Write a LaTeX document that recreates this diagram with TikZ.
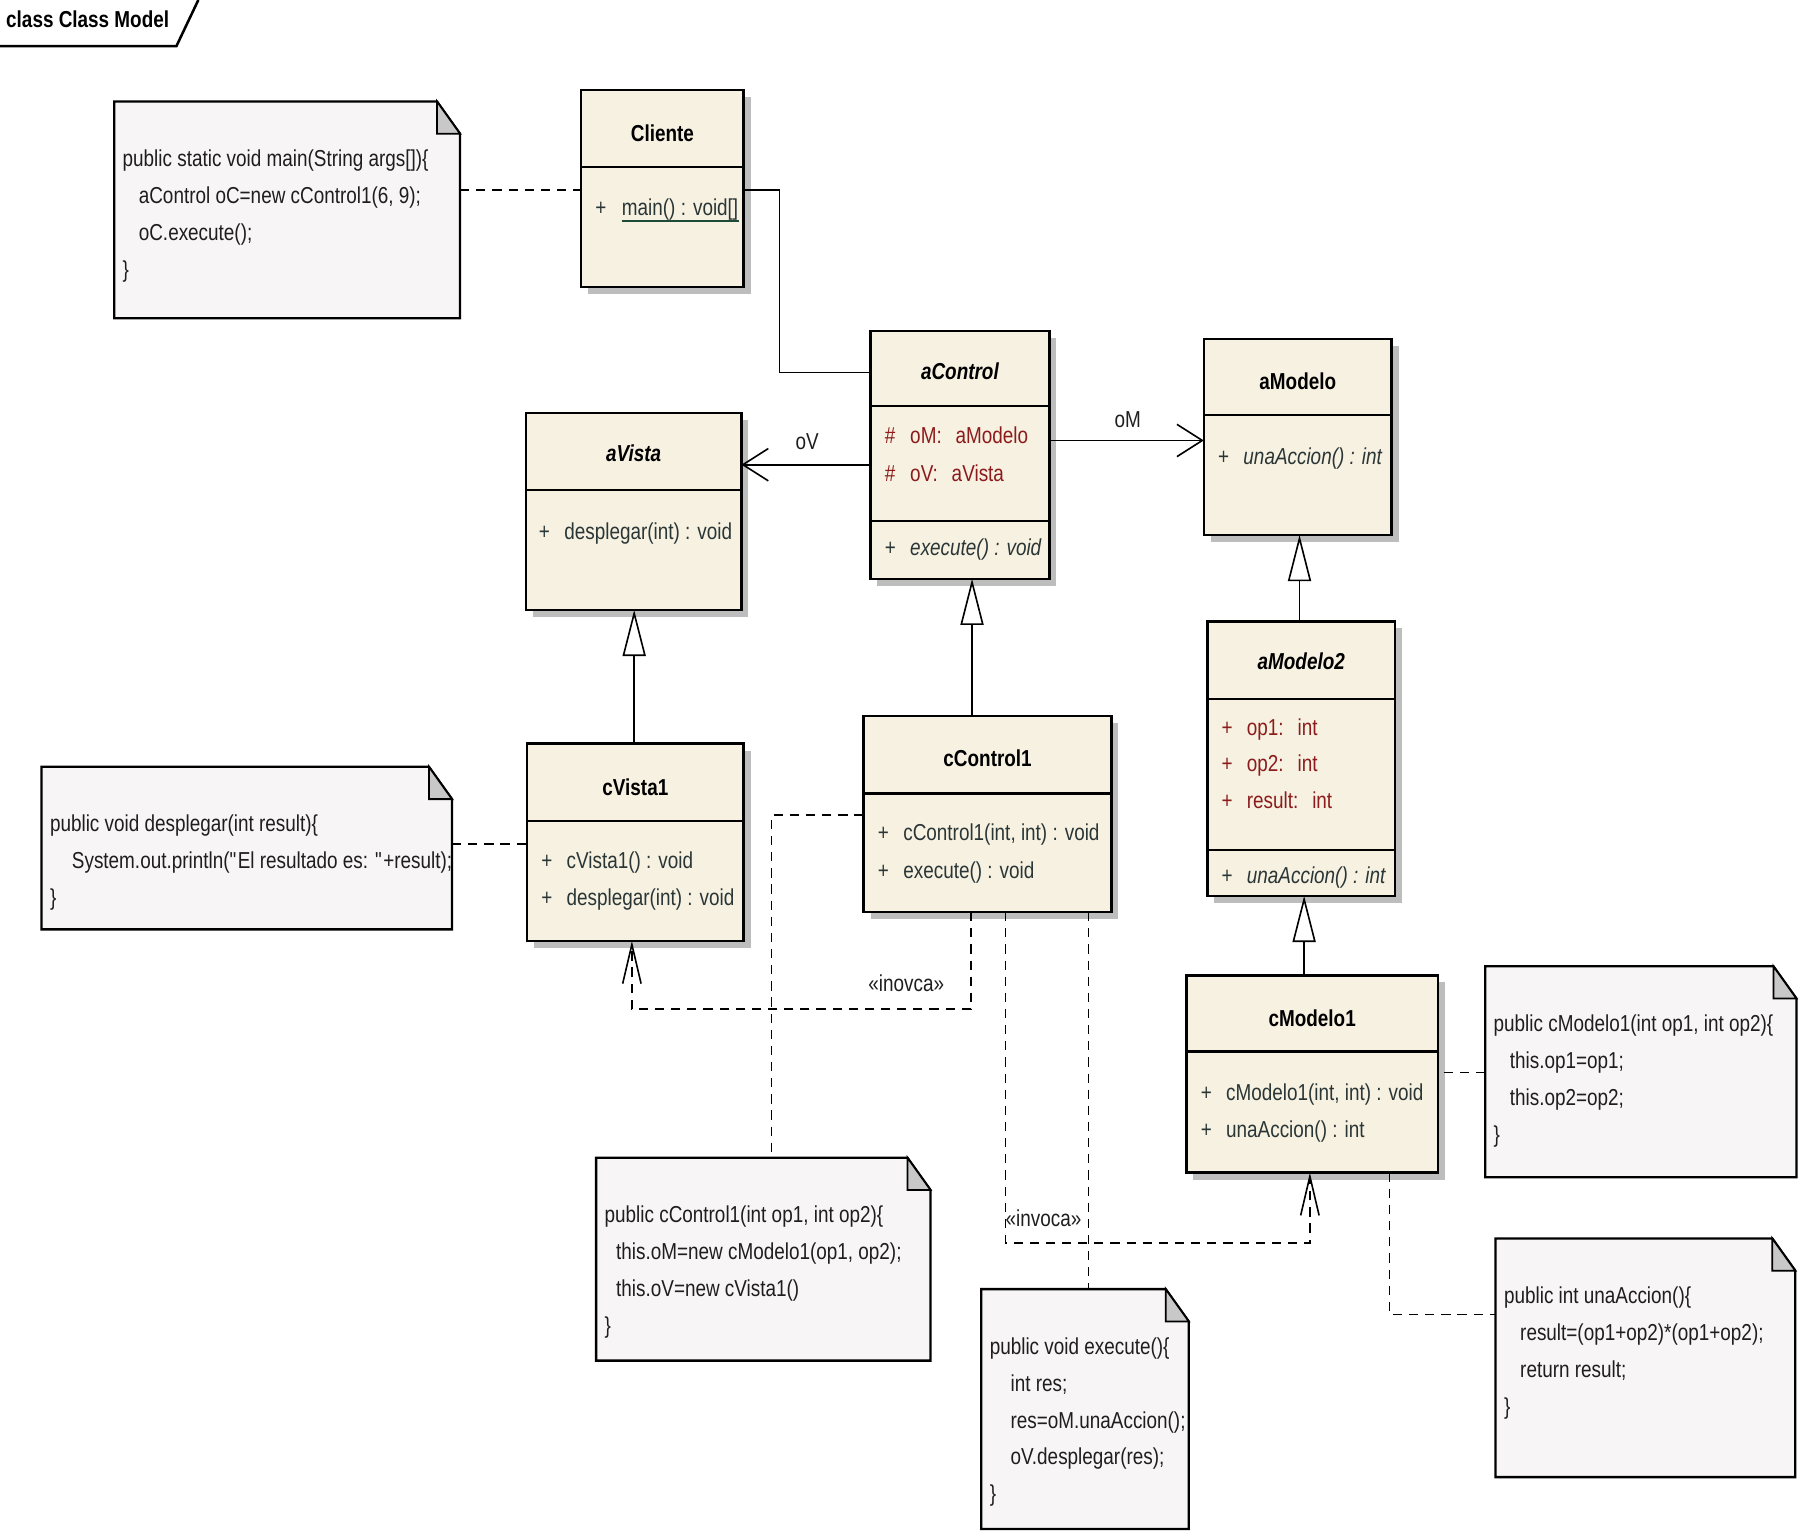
\documentclass[tikz,border=0pt]{standalone}
\usepackage{fontspec}
\setmainfont{Liberation Sans}[FakeStretch=0.82]
\usetikzlibrary{arrows.meta,fit}
\definecolor{classfill}{HTML}{F7F1E2}
\definecolor{notefill}{HTML}{F7F5F6}
\definecolor{shadowc}{HTML}{BDBDBD}
\definecolor{foldc}{HTML}{C8C8C8}
\definecolor{memc}{HTML}{2A3636}
\definecolor{attrc}{HTML}{8C1C1C}
\definecolor{notetext}{HTML}{1E1E1E}
\definecolor{ulc}{HTML}{1E4A38}
\newcounter{tn}
\newcommand\tx[4][]{\stepcounter{tn}\node[txt,#1] (tx\arabic{tn}) at (#2,#3+6.5) {#4};}
\newcommand\ttlx[4][]{\stepcounter{tn}\node[ttl,#1] (tx\arabic{tn}) at (#2,#3+7) {#4};}
\newcommand\umlclass[5]{\fill[shadowc] (#2+6,#3+6) rectangle (#4+6,#5+6);
  \node[classbox, fit={(#2,#3) (#4,#5)}] (#1) {};}
\newcommand\divl[2]{\draw[divline] (#1.west |- 0,#2) -- (#1.east |- 0,#2);}
\newcommand\umlnote[5]{\node[notebox, fit={(#2,#3) (#4,#5)}] (#1) {};
  \draw[noteline] (#1.north west) -- ([xshift=-10pt]#1.north east) -- ([yshift=-14pt]#1.north east) -- (#1.south east) -- (#1.south west) -- cycle;
  \filldraw[foldline] ([xshift=-10pt]#1.north east) -- ([xshift=-10pt,yshift=-14pt]#1.north east) -- ([yshift=-14pt]#1.north east) -- cycle;}
\begin{document}
\begin{tikzpicture}[x=0.5pt,y=-0.5pt,
  classbox/.style={draw=black, line width=1.1pt, fill=classfill, inner sep=0pt, outer sep=0pt},
  divline/.style={line width=1.1pt},
  notebox/.style={draw=none, inner sep=0pt, outer sep=0pt},
  noteline/.style={draw=black, line width=1pt, fill=notefill},
  foldline/.style={draw=black, line width=0.8pt, fill=foldc},
  txt/.style={inner sep=0pt, anchor=base west, font=\fontsize{10}{12}\selectfont, text=notetext},
  mem/.style={text=memc},
  memit/.style={text=memc, font=\fontsize{10}{12}\selectfont\itshape},
  attr/.style={text=attrc},
  ttl/.style={inner sep=0pt, anchor=base, font=\fontsize{10}{12}\selectfont\bfseries, text=black},
  ttlit/.style={font=\fontsize{10}{12}\selectfont\bfseries\itshape},
  lbl/.style={inner sep=0pt, anchor=base, font=\fontsize{10}{12}\selectfont, text=notetext},
  conn/.style={line width=0.7pt},
  dsh/.style={conn, dash pattern=on 4pt off 3pt},
  assoc/.style={conn, -{Straight Barb[length=11pt,width=14pt]}},
  gen/.style={conn, -{Triangle[length=20pt,width=10pt,fill=white]}},
  dep/.style={dsh, -{Straight Barb[length=17pt,width=8pt]}}
]
\useasboundingbox (0,0) rectangle (1568,1330);

% frame label
\node[inner sep=0pt, anchor=base west, font=\fontsize{10}{12}\selectfont\bfseries] (frametitle) at (5,24) {class Class Model};
\draw[line width=1.1pt] (0,40) -- (153,40) -- (172,0);

% notes
\umlnote{n1}{99}{88}{399}{276}
\tx{106}{138}{public static void main(String args[])\{}
\tx{120}{170}{aControl oC=new cControl1(6, 9);}
\tx{120}{202}{oC.execute();}
\tx{106}{234}{\}}

\umlnote{n2}{36}{665}{392}{806}
\tx{43}{715}{public void desplegar(int result)\{}
\tx{62}{747}{System.out.println(\textquotedbl El resultado es: \textquotedbl+result);}
\tx{43}{779}{\}}

\umlnote{n3}{517}{1004}{807}{1180}
\tx{524}{1054}{public cControl1(int op1, int op2)\{}
\tx{534}{1086}{this.oM=new cModelo1(op1, op2);}
\tx{534}{1118}{this.oV=new cVista1()}
\tx{524}{1150}{\}}

\umlnote{n4}{851}{1118}{1031}{1326}
\tx{858}{1168}{public void execute()\{}
\tx{876}{1200}{int res;}
\tx{876}{1232}{res=oM.unaAccion();}
\tx{876}{1264}{oV.desplegar(res);}
\tx{858}{1296}{\}}

\umlnote{n5}{1288}{838}{1558}{1021}
\tx{1295}{888}{public cModelo1(int op1, int op2)\{}
\tx{1309}{920}{this.op1=op1;}
\tx{1309}{952}{this.op2=op2;}
\tx{1295}{984}{\}}

\umlnote{n6}{1297}{1074}{1557}{1281}
\tx{1304}{1124}{public int unaAccion()\{}
\tx{1318}{1156}{result=(op1+op2)*(op1+op2);}
\tx{1318}{1188}{return result;}
\tx{1304}{1220}{\}}

% classes
\umlclass{cliente}{504}{78}{645}{249}
\divl{cliente}{145}
\ttlx{574.5}{116}{Cliente}
\tx[mem]{516}{180}{+}
\node[txt, mem] (mainop) at (539,186.5) {main() : void[]};
\draw[draw=ulc, line width=0.8pt] ([yshift=-2.5pt]mainop.base west) -- ([yshift=-2.5pt]mainop.base east);

\umlclass{acontrol}{755}{287}{910}{502}
\divl{acontrol}{352}
\divl{acontrol}{452}
\ttlx[ttlit]{832.5}{322}{aControl}
\tx[attr]{767}{378}{\#}
\tx[attr]{789}{378}{oM:\hspace{6pt}aModelo}
\tx[attr]{767}{411}{\#}
\tx[attr]{789}{411}{oV:\hspace{6pt}aVista}
\tx[mem]{767}{475}{+}
\tx[memit]{789}{475}{execute() : void}

\umlclass{amodelo}{1044}{294}{1207}{464}
\divl{amodelo}{360}
\ttlx{1125.5}{331}{aModelo}
\tx[mem]{1056}{396}{+}
\tx[memit]{1078}{396}{unaAccion() : int}

\umlclass{avista}{456}{358}{643}{529}
\divl{avista}{425}
\ttlx[ttlit]{549.5}{393}{aVista}
\tx[mem]{467}{461}{+}
\tx[mem]{489}{461}{desplegar(int) : void}

\umlclass{cvista1}{457}{645}{645}{816}
\divl{cvista1}{712}
\ttlx{551}{683}{cVista1}
\tx[mem]{469}{747}{+}
\tx[mem]{491}{747}{cVista1() : void}
\tx[mem]{469}{779}{+}
\tx[mem]{491}{779}{desplegar(int) : void}

\umlclass{ccontrol1}{749}{621}{964}{791}
\divl{ccontrol1}{688}
\ttlx{856.5}{658}{cControl1}
\tx[mem]{761}{722}{+}
\tx[mem]{783}{722}{cControl1(int, int) : void}
\tx[mem]{761}{755}{+}
\tx[mem]{783}{755}{execute() : void}

\umlclass{amodelo2}{1047}{539}{1210}{777}
\divl{amodelo2}{606}
\divl{amodelo2}{737}
\ttlx[ttlit]{1128.5}{574}{aModelo2}
\tx[attr]{1059}{631}{+}
\tx[attr]{1081}{631}{op1:\hspace{6pt}int}
\tx[attr]{1059}{663}{+}
\tx[attr]{1081}{663}{op2:\hspace{6pt}int}
\tx[attr]{1059}{695}{+}
\tx[attr]{1081}{695}{result:\hspace{6pt}int}
\tx[mem]{1059}{760}{+}
\tx[memit]{1081}{760}{unaAccion() : int}

\umlclass{cmodelo1}{1029}{846}{1247}{1017}
\divl{cmodelo1}{912}
\ttlx{1138}{883}{cModelo1}
\tx[mem]{1041}{948}{+}
\tx[mem]{1063}{948}{cModelo1(int, int) : void}
\tx[mem]{1041}{980}{+}
\tx[mem]{1063}{980}{unaAccion() : int}

% connectors
\draw[dsh] (n1.east |- 0,165) -- (cliente.west |- 0,165);
\draw[conn] (cliente.east |- 0,165) -- (676,165) |- (acontrol.west |- 0,323);
\draw[assoc] (acontrol.west |- 0,403) -- (avista.east |- 0,403);
\node[lbl] (lov) at (700,390) {oV};
\draw[assoc] (acontrol.east |- 0,382) -- (amodelo.west |- 0,382);
\node[lbl] (lom) at (978,371) {oM};
\draw[gen] (cvista1.north -| 550,0) -- (avista.south -| 550,0);
\draw[gen] (ccontrol1.north -| 843,0) -- (acontrol.south -| 843,0);
\draw[gen] (amodelo2.north -| 1127,0) -- (amodelo.south -| 1127,0);
\draw[gen] (cmodelo1.north -| 1131,0) -- (amodelo2.south -| 1131,0);
\draw[dsh] (n2.east |- 0,732) -- (cvista1.west |- 0,732);
\draw[dsh] (ccontrol1.west |- 0,707) -| (n3.north -| 669,0);
\draw[dep] (ccontrol1.south -| 842,0) |- (548,875) -- (cvista1.south -| 548,0);
\node[lbl] (linovca) at (786,860) {«inovca»};
\draw[dep] (ccontrol1.south -| 872,0) |- (1136,1078) -- (cmodelo1.south -| 1136,0);
\node[lbl] (linvoca) at (905,1064) {«invoca»};
\draw[dsh] (ccontrol1.south -| 944,0) -- (n4.north -| 944,0);
\draw[dsh] (n5.west |- 0,930) -- (cmodelo1.east |- 0,930);
\draw[dsh] (cmodelo1.south -| 1205,0) |- (n6.west |- 0,1140);
\end{tikzpicture}
\end{document}
